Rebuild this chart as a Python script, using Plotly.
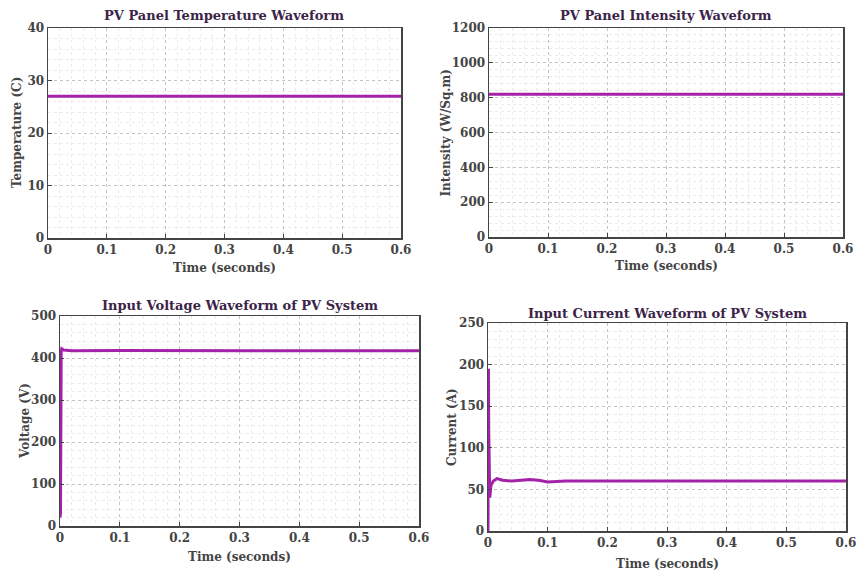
import plotly.graph_objects as go

# ---- data ----
t_temp = [0.0, 0.6]
temperature = [27, 27]

t_int = [0.0, 0.6]
intensity = [820, 820]

t_volt = [0.0, 0.0008, 0.002, 0.003, 0.006, 0.02, 0.1, 0.2, 0.4, 0.6]
voltage = [20, 30, 415, 422, 419, 417, 418, 418, 418, 417]

t_curr = [0.0, 0.0008, 0.0012, 0.003, 0.005, 0.009, 0.015, 0.025, 0.04, 0.055, 0.07, 0.085, 0.1, 0.13, 0.2, 0.4, 0.6]
current = [0, 195, 120, 40, 55, 60, 63, 61, 60, 61, 62, 61, 59, 60, 60, 60, 60]

x_ticks = [0, 0.1, 0.2, 0.3, 0.4, 0.5, 0.6]
x_tick_labels = ["0", "0.1", "0.2", "0.3", "0.4", "0.5", "0.6"]

titles = ["PV Panel Temperature Waveform", "PV Panel Intensity Waveform",
          "Input Voltage Waveform of PV System", "Input Current Waveform of PV System"]
ylabels = ["Temperature (C)", "Intensity (W/Sq.m)", "Voltage (V)", "Current (A)"]
xlabel = "Time (seconds)"

y_ranges = [[0, 40], [0, 1200], [0, 500], [0, 250]]
y_dticks = [10, 200, 100, 50]

# ---- layout geometry (pixels) ----
W, H = 859, 573
boxes = [  # x0, x1, ytop, ybottom
    (48, 401, 28, 238),
    (489, 843, 28, 237),
    (60, 419, 316, 526),
    (488, 846, 323, 531),
]
title_y = [16, 16, 305, 313]
xlabel_y = [268, 266, 557, 564]
ylabel_x = [17, 445, 25, 452]

LINE = "#a422aa"
FONT = "DejaVu Serif"

series = [(t_temp, temperature), (t_int, intensity), (t_volt, voltage), (t_curr, current)]


def px(v):
    return v / W


def py(v):
    return 1 - v / H


fig = go.Figure()
annotations = []
layout = {}
for i, ((x, y), (x0, x1, yt, yb)) in enumerate(zip(series, boxes)):
    n = "" if i == 0 else str(i + 1)
    fig.add_trace(go.Scatter(x=x, y=y, mode="lines", line=dict(color=LINE, width=3),
                             xaxis="x" + n, yaxis="y" + n, showlegend=False))
    common = dict(showline=True, mirror=True, linecolor="#444444", linewidth=1.5,
                  ticks="inside", ticklen=4, tickcolor="#444444", automargin=False,
                  showgrid=True, gridcolor="#c4c4c4", griddash="dot", gridwidth=1,
                  zeroline=False, ticklabeloverflow="allow",
                  tickfont=dict(family=FONT, size=12, color="#444444", weight="bold"))
    layout["xaxis" + n] = dict(common, domain=[px(x0), px(x1)], anchor="y" + n,
                               range=[0, 0.6], tickvals=x_ticks, ticktext=x_tick_labels,
                               minor=dict(dtick=0.02, showgrid=True, gridcolor="#ebebeb",
                                          griddash="dot", gridwidth=1))
    layout["yaxis" + n] = dict(common, domain=[py(yb), py(yt)], anchor="x" + n,
                               range=y_ranges[i], dtick=y_dticks[i],
                               minor=dict(dtick=y_dticks[i] / 5, showgrid=True, gridcolor="#ebebeb",
                                          griddash="dot", gridwidth=1))
    annotations.append(dict(text=titles[i], x=px((x0 + x1) / 2), y=py(title_y[i]),
                            xref="paper", yref="paper", showarrow=False,
                            xanchor="center", yanchor="middle",
                            font=dict(family=FONT, size=13, color="#3b2448", weight="bold")))
    annotations.append(dict(text=xlabel, x=px((x0 + x1) / 2), y=py(xlabel_y[i]),
                            xref="paper", yref="paper", showarrow=False,
                            xanchor="center", yanchor="middle",
                            font=dict(family=FONT, size=12, color="#444444", weight="bold")))
    annotations.append(dict(text=ylabels[i], x=px(ylabel_x[i]), y=py((yt + yb) / 2),
                            xref="paper", yref="paper", showarrow=False, textangle=-90,
                            xanchor="center", yanchor="middle",
                            font=dict(family=FONT, size=12, color="#444444", weight="bold")))

fig.update_layout(width=W, height=H, margin=dict(l=0, r=0, t=0, b=0),
                  paper_bgcolor="white", plot_bgcolor="white", hovermode=False,
                  annotations=annotations, **layout)
fig.write_html("out.html", config={"displayModeBar": False, "staticPlot": True},
               post_script="document.body.style.margin='0';document.body.style.overflow='hidden';")
